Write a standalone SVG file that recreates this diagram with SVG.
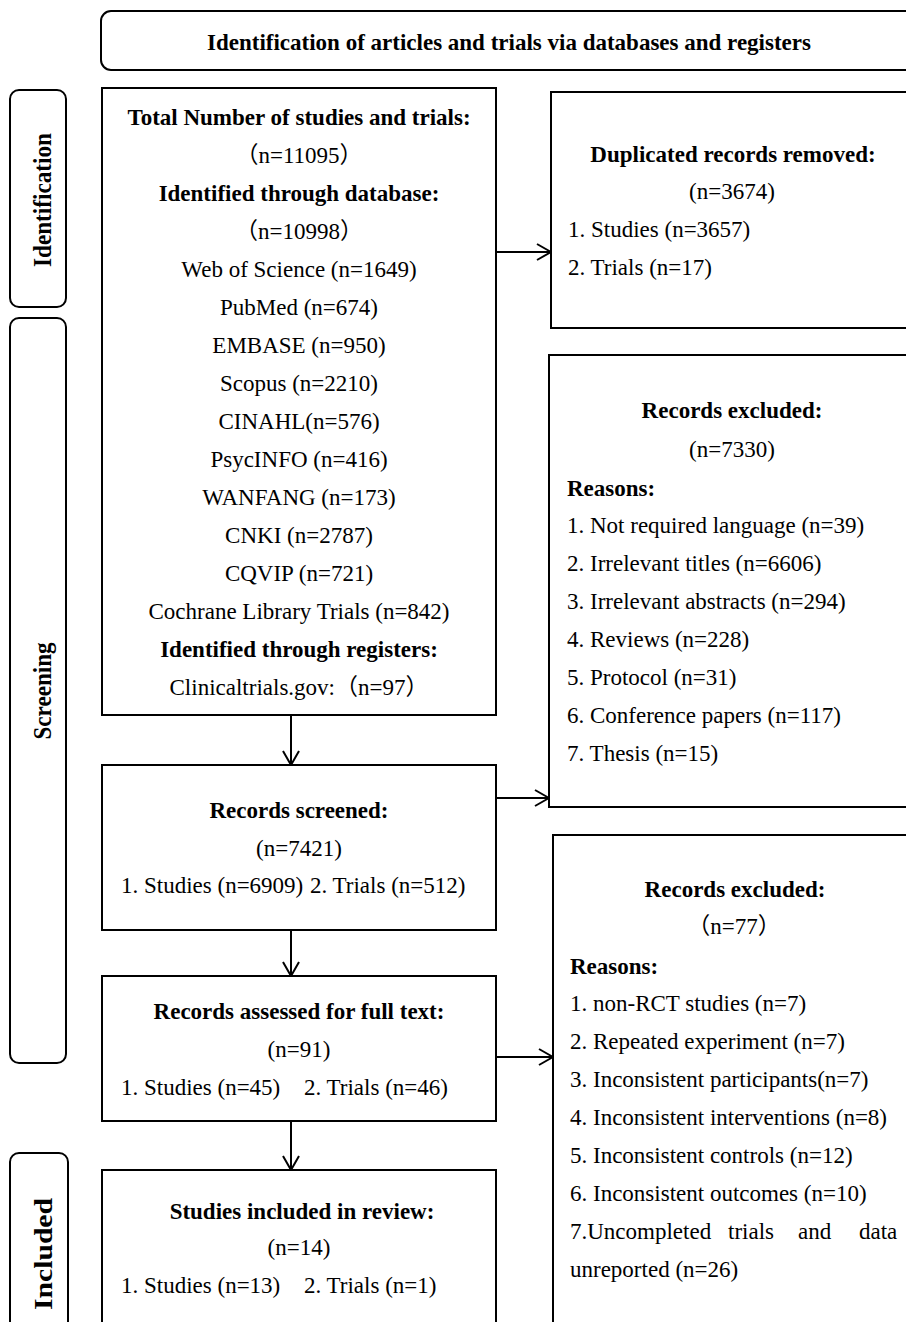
<svg xmlns="http://www.w3.org/2000/svg" width="906" height="1322" viewBox="0 0 906 1322">
<defs>
<style>
.box{fill:#fff;stroke:#000;stroke-width:2}
.side{fill:#fff;stroke:#000;stroke-width:2}
text{font-family:"Liberation Serif","Noto Sans CJK SC",serif;font-size:23px;fill:#000}
.b{font-weight:bold}
.c{text-anchor:middle}
.hdr{font-weight:bold}
.lab{font-size:25px;font-weight:bold;text-anchor:middle}
.conn{fill:none;stroke:#000;stroke-width:2}
</style>
<marker id="arr" markerWidth="16" markerHeight="18" refX="15" refY="9" orient="auto" markerUnits="userSpaceOnUse">
<path d="M1,1 L15,9 L1,17" fill="none" stroke="#000" stroke-width="2"/>
</marker>
</defs>
<rect width="906" height="1322" fill="#fff"/>

<g id="header">
<rect class="side" x="101" y="11" width="830" height="59" rx="10"/>
<text class="hdr c" x="509" y="50">Identification of articles and trials via databases and registers</text>
</g>

<g id="stage-identification">
<rect class="side" x="10" y="90" width="56" height="217" rx="9"/>
<text class="lab" transform="translate(51,200) rotate(-90)" textLength="134" lengthAdjust="spacingAndGlyphs">Identification</text>
</g>
<g id="stage-screening">
<rect class="side" x="10" y="318" width="56" height="745" rx="9"/>
<text class="lab" transform="translate(51,691) rotate(-90)" textLength="97" lengthAdjust="spacingAndGlyphs">Screening</text>
</g>
<g id="stage-included">
<rect class="side" x="10" y="1153" width="58" height="200" rx="9"/>
<text class="lab" transform="translate(52,1254) rotate(-90)" textLength="112" lengthAdjust="spacingAndGlyphs">Included</text>
</g>

<g id="identified">
<rect class="box" x="102" y="88" width="394" height="627"/>
<text class="c b" x="299" y="125">Total Number of studies and trials:</text>
<text class="c" x="299" y="163">（n=11095）</text>
<text class="c b" x="299" y="201">Identified through database:</text>
<text class="c" x="299" y="239">（n=10998）</text>
<text class="c" x="299" y="277">Web of Science (n=1649)</text>
<text class="c" x="299" y="315">PubMed (n=674)</text>
<text class="c" x="299" y="353">EMBASE (n=950)</text>
<text class="c" x="299" y="391">Scopus (n=2210)</text>
<text class="c" x="299" y="429">CINAHL(n=576)</text>
<text class="c" x="299" y="467">PsycINFO (n=416)</text>
<text class="c" x="299" y="505">WANFANG (n=173)</text>
<text class="c" x="299" y="543">CNKI (n=2787)</text>
<text class="c" x="299" y="581">CQVIP (n=721)</text>
<text class="c" x="299" y="619">Cochrane Library Trials (n=842)</text>
<text class="c b" x="299" y="657">Identified through registers:</text>
<text class="c" x="299" y="695">Clinicaltrials.gov:（n=97）</text>
</g>

<g id="duplicates">
<rect class="box" x="551" y="92" width="380" height="236"/>
<text class="c b" x="733" y="162">Duplicated records removed:</text>
<text class="c" x="732" y="199">(n=3674)</text>
<text x="568" y="237">1. Studies (n=3657)</text>
<text x="568" y="275">2. Trials (n=17)</text>
</g>

<g id="excluded-screening">
<rect class="box" x="549" y="355" width="382" height="452"/>
<text class="c b" x="732" y="418">Records excluded:</text>
<text class="c" x="732" y="457">(n=7330)</text>
<text class="b" x="567" y="496">Reasons:</text>
<text x="567" y="533">1. Not required language (n=39)</text>
<text x="567" y="571">2. Irrelevant titles (n=6606)</text>
<text x="567" y="609">3. Irrelevant abstracts (n=294)</text>
<text x="567" y="647">4. Reviews (n=228)</text>
<text x="567" y="685">5. Protocol (n=31)</text>
<text x="567" y="723">6. Conference papers (n=117)</text>
<text x="567" y="761">7. Thesis (n=15)</text>
</g>

<g id="screened">
<rect class="box" x="102" y="765" width="394" height="165"/>
<text class="c b" x="299" y="818">Records screened:</text>
<text class="c" x="299" y="856">(n=7421)</text>
<text y="893"><tspan x="121">1. Studies (n=6909)</tspan><tspan x="310">2. Trials (n=512)</tspan></text>
</g>

<g id="fulltext">
<rect class="box" x="102" y="976" width="394" height="145"/>
<text class="c b" x="299" y="1019">Records assessed for full text:</text>
<text class="c" x="299" y="1057">(n=91)</text>
<text y="1095"><tspan x="121">1. Studies (n=45)</tspan><tspan x="304">2. Trials (n=46)</tspan></text>
</g>

<g id="excluded-fulltext">
<rect class="box" x="553" y="835" width="380" height="520"/>
<text class="c b" x="735" y="897">Records excluded:</text>
<text class="c" x="734" y="934">（n=77）</text>
<text class="b" x="570" y="974">Reasons:</text>
<text x="570" y="1011">1. non-RCT studies (n=7)</text>
<text x="570" y="1049">2. Repeated experiment (n=7)</text>
<text x="570" y="1087">3. Inconsistent participants(n=7)</text>
<text x="570" y="1125">4. Inconsistent interventions (n=8)</text>
<text x="570" y="1163">5. Inconsistent controls (n=12)</text>
<text x="570" y="1201">6. Inconsistent outcomes (n=10)</text>
<text y="1239"><tspan x="570">7.Uncompleted</tspan><tspan x="728">trials</tspan><tspan x="798">and</tspan><tspan x="859">data</tspan></text>
<text x="570" y="1277">unreported (n=26)</text>
</g>

<g id="included">
<rect class="box" x="102" y="1170" width="394" height="190"/>
<text class="c b" x="302" y="1219">Studies included in review:</text>
<text class="c" x="299" y="1255">(n=14)</text>
<text y="1293"><tspan x="121">1. Studies (n=13)</tspan><tspan x="304">2. Trials (n=1)</tspan></text>
</g>

<g id="connectors">
<line class="conn" x1="497" y1="252" x2="551" y2="252" marker-end="url(#arr)"/>
<line class="conn" x1="291" y1="715" x2="291" y2="765" marker-end="url(#arr)"/>
<line class="conn" x1="497" y1="798" x2="549" y2="798" marker-end="url(#arr)"/>
<line class="conn" x1="291" y1="930" x2="291" y2="976" marker-end="url(#arr)"/>
<line class="conn" x1="497" y1="1057" x2="553" y2="1057" marker-end="url(#arr)"/>
<line class="conn" x1="291" y1="1121" x2="291" y2="1170" marker-end="url(#arr)"/>
</g>
</svg>
